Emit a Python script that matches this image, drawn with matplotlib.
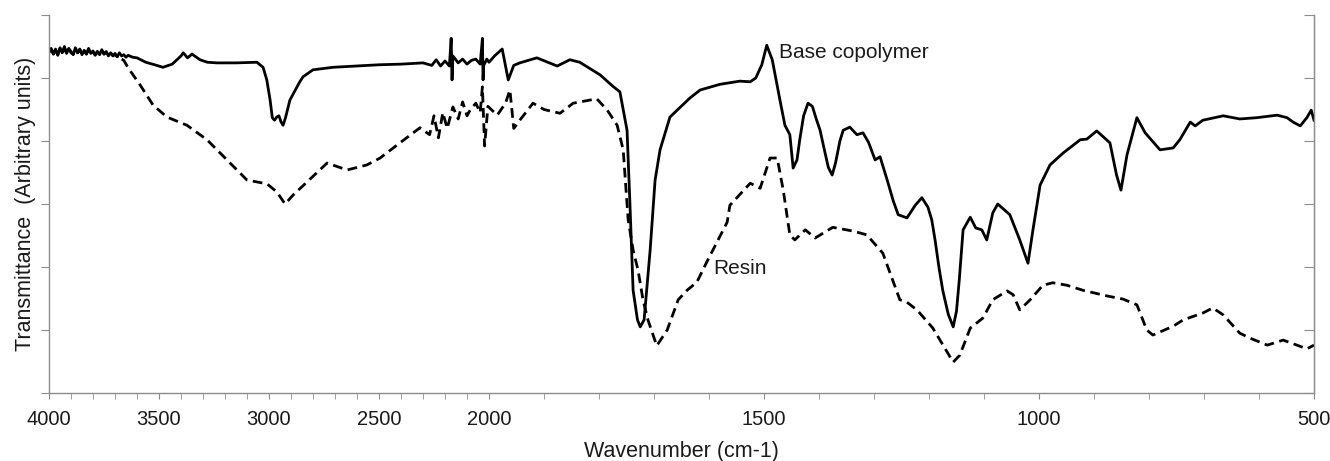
import numpy as np
import matplotlib
matplotlib.use("Agg")
import matplotlib.pyplot as plt
from matplotlib.ticker import FixedLocator, NullFormatter

plt.rcParams["font.family"] = ["Liberation Sans", "DejaVu Sans"]

# FTIR spectra (transmittance, arbitrary units)
base_wn = [4000, 3990, 3980, 3970, 3960, 3950, 3940, 3930, 3920, 3910, 3900, 3890,
           3880, 3870, 3860, 3850, 3840, 3830, 3820, 3810, 3800, 3790, 3780, 3770,
           3760, 3750, 3740, 3730, 3720, 3710, 3700, 3690, 3680, 3670, 3660, 3650,
           3640, 3620, 3600, 3560, 3520, 3482,
           3440, 3400, 3390, 3370, 3350, 3314, 3280, 3236, 3150, 3055, 3027, 3010,
           2995, 2985, 2975, 2965, 2955, 2945, 2936, 2925, 2905, 2885, 2860, 2845,
           2800, 2709, 2600, 2500, 2400, 2300, 2260, 2240, 2220, 2200, 2180, 2172,
           2168, 2164, 2140, 2120, 2100, 2080, 2060, 2040, 2030, 2027, 2024, 2010,
           2000, 1990, 1976, 1965, 1955, 1944, 1913, 1876, 1853, 1835, 1798, 1775,
           1762, 1749, 1744, 1738, 1730, 1725, 1718, 1707, 1698, 1689, 1671, 1635,
           1616, 1580, 1544, 1525, 1515, 1504, 1495, 1485, 1471, 1462, 1453, 1447,
           1440, 1435, 1428, 1420, 1412, 1405, 1398, 1390, 1383, 1376, 1370, 1362,
           1356, 1344, 1331, 1320, 1310, 1298, 1289, 1276, 1265, 1256,
           1240, 1225, 1213, 1202, 1195, 1189, 1182, 1175, 1165, 1156, 1150, 1145,
           1138, 1125, 1115, 1104,
           1095, 1084, 1075, 1053, 1035, 1020, 1011, 998, 980, 956, 925, 913, 895,
           871, 859, 851, 840, 822, 807, 780, 756, 744, 725, 716, 702, 665, 635, 604,
           567, 549, 538, 525, 513, 505, 500]
base_t = [5.41, 5.47, 5.38, 5.46, 5.36, 5.48, 5.40, 5.50, 5.39, 5.47, 5.42, 5.37,
          5.48, 5.40, 5.46, 5.37, 5.44, 5.38, 5.47, 5.39, 5.43, 5.36, 5.42, 5.37,
          5.45, 5.38, 5.42, 5.35, 5.40, 5.36, 5.39, 5.34, 5.40, 5.35, 5.37, 5.33,
          5.36, 5.33, 5.32, 5.25, 5.21, 5.17,
          5.22, 5.35, 5.40, 5.32, 5.38, 5.29, 5.25, 5.24, 5.24, 5.25, 5.17, 4.97,
          4.65, 4.37, 4.33, 4.38, 4.40, 4.30, 4.25, 4.37, 4.65, 4.78, 4.94, 5.02,
          5.13, 5.17, 5.19, 5.21, 5.22, 5.24, 5.20, 5.29, 5.19, 5.27, 5.19, 5.63,
          4.97, 5.35, 5.24, 5.30, 5.22, 5.28, 5.30, 5.22, 5.63, 4.97, 5.20, 5.30,
          5.25, 5.35, 5.46, 4.97, 5.20, 5.24, 5.32, 5.19, 5.29, 5.25, 5.05, 4.87,
          4.78, 4.17, 3.06, 1.63, 1.16, 1.05, 1.16, 2.27, 3.38, 3.86, 4.38, 4.68,
          4.81, 4.90, 4.95, 4.94, 5.00, 5.21, 5.52, 5.29, 4.65, 4.25, 4.10, 3.57,
          3.70, 4.02, 4.40, 4.60, 4.55, 4.35, 4.17, 3.85, 3.58, 3.46, 3.65, 4.00,
          4.17, 4.22, 4.10, 4.13, 3.98, 3.70, 3.75, 3.38, 3.05, 2.83,
          2.78, 2.98, 3.10, 2.95, 2.75, 2.43, 2.00, 1.63, 1.25, 1.05, 1.30, 1.79,
          2.59, 2.79, 2.62, 2.59,
          2.43, 2.86, 3.00, 2.83, 2.43, 2.06, 2.59, 3.30, 3.62, 3.81, 4.02, 4.03, 4.16,
          3.97, 3.46, 3.22, 3.78, 4.37, 4.13, 3.86, 3.89, 4.02, 4.30, 4.24, 4.33, 4.40,
          4.35, 4.37, 4.41, 4.37, 4.30, 4.24, 4.37, 4.49, 4.33]

resin_wn = [4000, 3990, 3980, 3970, 3960, 3950, 3940, 3930, 3920, 3910, 3900, 3890,
            3880, 3870, 3860, 3850, 3840, 3830, 3820, 3810, 3800, 3790, 3780, 3770,
            3760, 3750, 3740, 3730, 3720, 3710, 3700, 3690, 3680, 3670, 3660, 3640,
            3586, 3527, 3464, 3373, 3282,
            3191, 3100, 3009, 2964, 2927, 2891, 2800, 2736, 2645, 2555, 2495, 2405,
            2314, 2270, 2250, 2230, 2210, 2190, 2164, 2140, 2120, 2100, 2086, 2060,
            2040, 2030, 2020, 2005, 1985, 1970, 1962, 1955, 1944, 1920, 1900, 1871,
            1847, 1804, 1785, 1767, 1756, 1747, 1738, 1729, 1720, 1711, 1695, 1676,
            1656, 1640, 1622, 1604, 1567, 1562, 1525, 1507, 1489, 1476, 1465, 1453,
            1444, 1425, 1407, 1375, 1338, 1313, 1284, 1253, 1240, 1222, 1193, 1180,
            1156, 1144, 1125, 1102, 1084, 1058, 1047, 1035, 1016, 993, 975, 949, 920,
            876, 847, 822, 804, 793, 756, 738, 702, 684, 665, 635, 616, 585, 556, 531,
            513, 500]
resin_t = [5.41, 5.45, 5.38, 5.44, 5.37, 5.47, 5.39, 5.48, 5.39, 5.46, 5.40, 5.38,
           5.46, 5.40, 5.45, 5.38, 5.43, 5.38, 5.45, 5.39, 5.41, 5.37, 5.42, 5.37,
           5.43, 5.38, 5.41, 5.36, 5.40, 5.35, 5.37, 5.34, 5.36, 5.30, 5.28, 5.16,
           4.89, 4.57, 4.38, 4.25, 4.02,
           3.70, 3.38, 3.32, 3.19, 3.00, 3.14, 3.44, 3.65, 3.54, 3.62, 3.73, 3.97,
           4.21, 4.10, 4.40, 4.05, 4.45, 4.20, 4.54, 4.35, 4.62, 4.40, 4.49, 4.60,
           4.45, 4.86, 3.92, 4.55, 4.41, 4.60, 4.81, 4.20, 4.33, 4.60, 4.50, 4.44,
           4.60, 4.67, 4.49, 4.25, 3.86, 2.75, 2.27, 1.95, 1.48, 1.16, 0.75, 1.00,
           1.48, 1.63, 1.76, 2.08, 2.71, 2.98, 3.33, 3.25, 3.73, 3.73, 3.22, 2.51,
           2.43, 2.59, 2.46, 2.63, 2.57, 2.51, 2.22, 1.48, 1.44, 1.32, 1.03, 0.84,
           0.49, 0.60, 1.03, 1.19, 1.48, 1.62, 1.56, 1.32, 1.48, 1.71, 1.75, 1.71, 1.63,
           1.54, 1.49, 1.40, 1.00, 0.92, 1.06, 1.16, 1.27, 1.35, 1.24, 0.95, 0.87, 0.76,
           0.84, 0.76, 0.70, 0.76]

major_ticks = [4000, 3500, 3000, 2500, 2000, 1500, 1000, 500]


# axis is stretched 2.5x below 2000 cm-1, like the spectrometer printout
def fwd(x):
    x = np.asarray(x, dtype=float)
    return np.where(x < 2000, x * 2.5, x + 3000)


def inv(y):
    y = np.asarray(y, dtype=float)
    return np.where(y < 5000, y / 2.5, y - 3000)


fig = plt.figure(figsize=(13.3, 4.61), dpi=100)
ax = fig.add_axes([49 / 1330, 1 - 393 / 461, 1265 / 1330, 378 / 461])
ax.set_xscale("function", functions=(fwd, inv))

ax.plot(base_wn, base_t, color="black", lw=2.0, solid_joinstyle="round")
ax.plot(resin_wn, resin_t, color="black", lw=2.0, linestyle=(0, (3.5, 2.0)))

ax.set_xlim(4000, 500)
ax.set_ylim(0, 6)

grey = "#8c8c8c"
ax.xaxis.set_major_locator(FixedLocator(major_ticks))
ax.xaxis.set_minor_locator(FixedLocator(list(range(500, 4001, 100))))
ax.xaxis.set_minor_formatter(NullFormatter())
ax.set_xticklabels([str(t) for t in major_ticks])
ax.yaxis.set_major_locator(FixedLocator(list(range(0, 7))))
ax.tick_params(axis="y", which="both", labelleft=False, length=6, color=grey,
               direction="out", right=False)
ax.tick_params(axis="x", which="both", length=4, color=grey, direction="out",
               labelsize=14.5, labelcolor="#1a1a1a", pad=8)
for side in ["left", "right", "bottom"]:
    ax.spines[side].set_color(grey)
    ax.spines[side].set_linewidth(1.0)
ax.spines["top"].set_visible(False)

# right-hand axis: ticks point inward, no labels
sec = ax.secondary_yaxis("right")
sec.yaxis.set_major_locator(FixedLocator(list(range(0, 7))))
sec.tick_params(direction="in", length=7, color=grey, labelright=False)
sec.spines["right"].set_color(grey)

ax.set_xlabel("Wavenumber (cm-1)", fontsize=15.5, color="#1a1a1a", labelpad=9)
ax.set_ylabel("Transmittance  (Arbitrary units)", fontsize=15.5, color="#1a1a1a",
              labelpad=3)

ax.text(1473, 5.41, "Base copolymer", fontsize=15, color="#1a1a1a", va="center",
        ha="left")
ax.text(1593, 1.97, "Resin", fontsize=15, color="#1a1a1a", va="center", ha="left")

fig.savefig("out.png", dpi=100)
